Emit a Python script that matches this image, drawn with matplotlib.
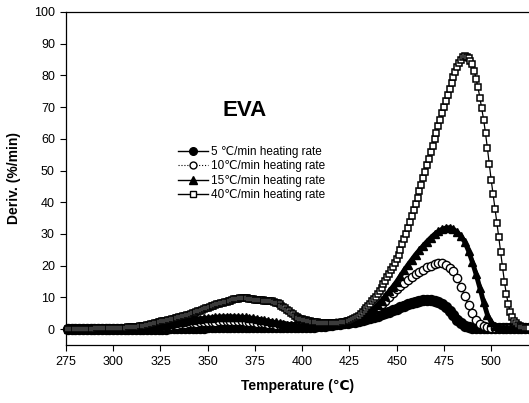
import numpy as np
import matplotlib
matplotlib.use('Agg')
import matplotlib.pyplot as plt
from matplotlib.lines import Line2D

plt.rcParams['font.family'] = ['Liberation Sans', 'DejaVu Sans']

# ---------------- data ----------------
temp_slow = np.arange(276, 521, 2)      # 5, 10, 15 C/min series
temp_fast = np.arange(276, 521, 1)      # 40 C/min series

rate_5 = ([0.1] * 22 + [
    0.12, 0.14, 0.16, 0.18, 0.2, 0.22, 0.25, 0.28, 0.31, 0.34,
    0.37, 0.4, 0.43, 0.46, 0.49, 0.52, 0.55, 0.57, 0.59, 0.6,
    0.61, 0.62, 0.62, 0.62, 0.62, 0.61, 0.6, 0.59, 0.58, 0.57,
    0.56, 0.55, 0.54, 0.53, 0.52, 0.52, 0.52, 0.53, 0.55, 0.58,
    0.62, 0.67, 0.73, 0.8, 0.88, 0.97, 1.08, 1.2, 1.33, 1.47,
    1.62, 1.78, 1.95, 2.15, 2.4, 2.7, 3.0, 3.3, 3.6, 3.9,
    4.3, 4.7, 5.1, 5.5, 5.9, 6.4, 6.9, 7.4, 7.9, 8.3,
    8.7, 8.95, 9.15, 9.2, 9.15, 8.95, 8.5, 7.8, 6.9, 5.8,
    4.4, 3.0, 1.9, 1.1, 0.7, 0.5, 0.4, 0.35]
    + [0.3] * 13)

rate_10 = ([0.1] * 15 + [
    0.1, 0.12, 0.14, 0.17, 0.2, 0.26, 0.33, 0.42, 0.53, 0.65,
    0.78, 0.93, 1.1, 1.25, 1.4, 1.55, 1.7, 1.8, 1.92, 2.04,
    2.15, 2.23, 2.3, 2.35, 2.4, 2.45, 2.5, 2.5, 2.5, 2.5,
    2.48, 2.45, 2.4, 2.3, 2.2, 2.05, 1.92, 1.8, 1.68, 1.56,
    1.44, 1.32, 1.2, 1.1, 1.02, 0.96, 0.92, 0.9, 0.9, 0.9,
    0.95, 1.02, 1.1, 1.25, 1.4, 1.6, 1.8, 2.0, 2.25, 2.5,
    2.8, 3.1, 3.5, 4.0, 4.6, 5.3, 6.1, 7.0, 8.0, 9.0,
    10.2, 11.4, 12.5, 13.5, 14.5, 15.5, 16.4, 17.3, 18.1, 18.8,
    19.5, 20.0, 20.5, 20.7, 20.7, 20.2, 19.3, 18.2, 16.0, 13.4,
    10.6, 7.5, 5.0, 3.0, 1.5, 0.85, 0.55, 0.4, 0.35]
    + [0.3] * 9)

rate_15 = ([0.1] * 15 + [
    0.12, 0.14, 0.16, 0.2, 0.26, 0.34, 0.46, 0.6, 0.8, 1.0,
    1.2, 1.45, 1.7, 1.95, 2.2, 2.4, 2.6, 2.8, 2.95, 3.1,
    3.25, 3.4, 3.5, 3.6, 3.75, 3.85, 3.9, 3.9, 3.9, 3.9,
    3.85, 3.8, 3.7, 3.55, 3.4, 3.2, 3.0, 2.8, 2.55, 2.3,
    2.1, 1.85, 1.6, 1.45, 1.3, 1.15, 1.05, 1.0, 1.0, 1.0,
    1.0, 1.05, 1.1, 1.2, 1.3, 1.5, 1.7, 1.9, 2.15, 2.4,
    2.75, 3.05, 3.4, 3.9, 4.5, 5.3, 6.5, 7.7, 9.0, 10.4,
    11.9, 13.4, 15.0, 16.8, 18.6, 20.3, 21.9, 23.5, 24.9, 26.3,
    27.6, 28.8, 29.9, 30.8, 31.5, 31.9, 32.0, 31.5, 30.6, 29.3,
    27.5, 24.7, 21.2, 17.3, 13.0, 8.5, 4.5, 2.2, 1.1, 0.6,
    0.45, 0.4]
    + [0.35] * 6)

rate_40 = [
    0.15, 0.15, 0.15, 0.15, 0.15, 0.16, 0.16, 0.17, 0.17, 0.18,
    0.18, 0.19, 0.19, 0.2, 0.2, 0.21, 0.22, 0.23, 0.24, 0.25,
    0.26, 0.27, 0.28, 0.29, 0.3, 0.32, 0.34, 0.36, 0.38, 0.41,
    0.44, 0.48, 0.52, 0.56, 0.6, 0.66, 0.72, 0.78, 0.84, 0.92,
    1.0, 1.12, 1.25, 1.38, 1.5, 1.65, 1.8, 1.97, 2.15, 2.3,
    2.45, 2.58, 2.7, 2.85, 3.0, 3.15, 3.3, 3.47, 3.65, 3.8,
    3.95, 4.12, 4.3, 4.45, 4.6, 4.8, 5.0, 5.2, 5.4, 5.62,
    5.85, 6.07, 6.3, 6.55, 6.8, 7.0, 7.2, 7.4, 7.6, 7.8,
    8.0, 8.18, 8.35, 8.52, 8.7, 8.85, 9.0, 9.18, 9.35, 9.48,
    9.6, 9.7, 9.8, 9.8, 9.75, 9.68, 9.6, 9.5, 9.4, 9.32,
    9.25, 9.18, 9.1, 9.05, 9.0, 8.98, 8.95, 8.9, 8.8, 8.62,
    8.4, 8.12, 7.8, 7.42, 7.0, 6.55, 6.1, 5.65, 5.2, 4.75,
    4.3, 3.95, 3.6, 3.33, 3.1, 2.95, 2.8, 2.65, 2.5, 2.4,
    2.3, 2.22, 2.15, 2.07, 2.0, 1.97, 1.95, 1.92, 1.9, 1.9,
    1.9, 1.92, 1.95, 1.97, 2.0, 2.1, 2.2, 2.35, 2.5, 2.7,
    2.9,
    3.1, 3.4, 3.8, 4.2, 4.8, 5.4, 6.0, 6.7, 7.3, 8.0,
    8.8, 9.5, 10.2, 11.0, 12.0, 13.0, 14.1, 15.2, 16.3, 17.4,
    18.5, 19.7, 20.8, 22.0, 23.5, 25.1, 26.7, 28.3, 30.0, 31.9,
    33.8, 35.7, 37.6, 39.5, 41.5, 43.5, 45.5, 47.5, 49.5, 51.6,
    53.7, 55.8, 57.9, 60.0, 62.0, 64.0, 66.0, 68.0, 70.0, 72.0,
    73.9, 75.8, 77.7, 79.5, 81.1, 82.6, 84.0, 85.0, 85.7, 86.0,
    85.9, 85.5, 84.7, 83.5, 81.5, 79.0, 76.2, 73.0, 69.6, 66.0,
    61.7, 57.0, 52.0, 47.0, 42.5, 38.0, 33.5, 29.0, 24.2, 19.5,
    15.0, 11.0, 8.0, 5.5, 3.8, 2.6, 1.8, 1.3, 0.95, 0.7,
    0.55, 0.45, 0.4, 0.35]

labels = ['5 \u2103/min heating rate', '10\u2103/min heating rate',
          '15\u2103/min heating rate', '40\u2103/min heating rate']
x_ticks = [275, 300, 325, 350, 375, 400, 425, 450, 475, 500]
y_ticks = [0, 10, 20, 30, 40, 50, 60, 70, 80, 90, 100]

assert len(rate_5) == len(temp_slow)
assert len(rate_10) == len(temp_slow)
assert len(rate_15) == len(temp_slow)
assert len(rate_40) == len(temp_fast)

# ---------------- figure ----------------
fig = plt.figure(figsize=(5.29, 4.03), dpi=100)
ax = fig.add_axes([66 / 529, 58 / 403, 1 - 66 / 529, (345 - 12) / 403])

# 5 C/min: dense filled circles -> thick solid band
ax.plot(temp_slow, rate_5, '-', color='black', lw=6.5, solid_capstyle='round',
        marker='o', ms=7.2, mfc='black', mec='black', clip_on=False, zorder=3)
# 10 C/min: open circles
ax.plot(temp_slow, rate_10, '-', color='black', lw=1.0, marker='o', ms=6.0,
        mfc='white', mec='black', mew=1.0, clip_on=False, zorder=4)
# 15 C/min: filled triangles
ax.plot(temp_slow, rate_15, '-', color='black', lw=3.5, solid_capstyle='round',
        marker='^', ms=6.2, mfc='black', mec='black', clip_on=False, zorder=5)
# 40 C/min: open squares
ax.plot(temp_fast, rate_40, '-', color='black', lw=0.9, marker='s', ms=5.0,
        mfc='white', mec='black', mew=1.1, clip_on=False, zorder=6)

ax.set_xlim(275, 520)
ax.set_ylim(-5, 100)
ax.set_xticks(x_ticks)
ax.set_yticks(y_ticks)
ax.tick_params(direction='out', length=4, width=0.8, labelsize=9, pad=4)
for s in ['left', 'bottom', 'top']:
    ax.spines[s].set_linewidth(0.9)
ax.spines['right'].set_visible(False)

ax.set_xlabel('Temperature (\u2103)', fontsize=10, fontweight='bold', labelpad=8)
ax.set_ylabel('Deriv. (%/min)', fontsize=10, fontweight='bold', labelpad=9)

ax.text(0.3866, 0.7057, 'EVA', transform=ax.transAxes, ha='center', va='center',
        fontsize=16, fontweight='bold')

handles = [
    Line2D([], [], color='black', lw=1.0, marker='o', ms=5.5, mfc='black', mec='black'),
    Line2D([], [], color='black', lw=0.8, ls=':', marker='o', ms=5, mfc='white', mec='black'),
    Line2D([], [], color='black', lw=1.0, marker='^', ms=5.5, mfc='black', mec='black'),
    Line2D([], [], color='black', lw=1.0, marker='s', ms=5, mfc='white', mec='black'),
]
ax.legend(handles, labels, loc='upper left', bbox_to_anchor=(178 / 529, 1 - 146 / 403),
          bbox_transform=fig.transFigure, frameon=False, fontsize=8.5,
          handlelength=2.5, handletextpad=0.3, labelspacing=0.2,
          borderpad=0, borderaxespad=0)

fig.savefig('out.png', dpi=100)
